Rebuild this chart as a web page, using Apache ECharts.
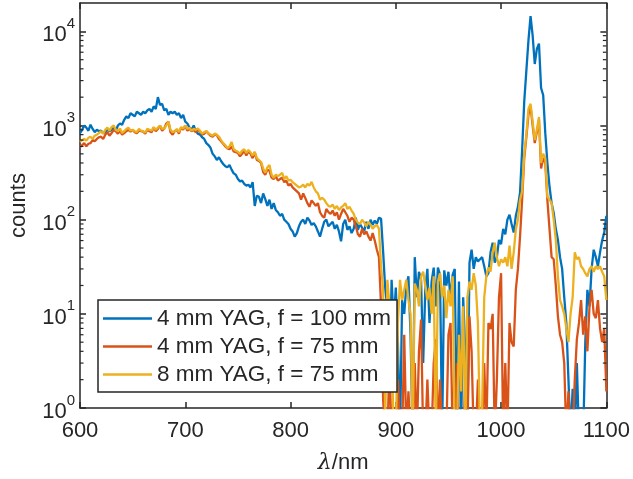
<!DOCTYPE html>
<html>
<head>
<meta charset="utf-8">
<script src="https://cdn.jsdelivr.net/npm/echarts@6/dist/echarts.min.js"></script>
<style>html,body{margin:0;padding:0;background:#fff;}#c{width:633px;height:479px;}</style>
</head>
<body>
<div id="c"></div>
<script>
// wavelength sampling grid: 600..1100 nm, step 2 nm
const wlStart = 600, wlStep = 2;

const seriesNames = ['4 mm YAG, f = 100 mm', '4 mm YAG, f = 75 mm', '8 mm YAG, f = 75 mm'];
const xTicks = [600, 700, 800, 900, 1000, 1100];
const yMajor = [1, 10, 100, 1000, 10000];

const blue = [
830, 900, 1000, 950, 880, 1020, 920, 850, 900, 870,
880, 830, 850, 900, 870, 900, 950, 880, 1000, 1050,
1020, 1150, 1250, 1200, 1350, 1300, 1250, 1400, 1350, 1300,
1400, 1350, 1450, 1500, 1400, 1600, 1500, 2000, 1650, 1700,
1450, 1500, 1300, 1400, 1350, 1400, 1300, 1350, 1200, 1300,
1100, 1050, 950, 900, 1000, 870, 820, 800, 750, 720,
650, 620, 580, 500, 470, 430, 460, 420, 390, 370,
360, 380, 340, 310, 300, 270, 255, 260, 240, 230,
235, 220, 250, 140, 180, 175, 150, 190, 165, 140,
163, 130, 150, 127, 120, 110, 115, 100, 95, 90,
80, 75, 66, 72, 85, 95, 100, 90, 105, 98,
88, 92, 85, 75, 66, 80, 95, 100, 85, 90,
95, 80, 88, 75, 59, 90, 100, 78, 85, 72,
80, 105, 78, 90, 82, 76, 95, 80, 100, 88,
98, 90, 105, 102, 45, 18, 12, 1.5, 23, 8,
19, 5, 0.5, 14, 10, 20, 25, 6, 0.5, 40,
15, 28, 23, 3, 18, 30, 8, 22, 31, 12,
31, 26, 0.5, 29, 20, 28, 14, 26, 30, 0.5,
22, 0.5, 15, 4, 0.5, 35, 48, 30, 40, 36,
38, 40, 32, 25, 27, 45, 57, 35, 40, 61,
55, 80, 70, 100, 113, 90, 73, 110, 137, 193,
550, 1800, 3800, 8000, 14500, 9000, 4500, 6500, 7400, 2500,
2100, 830, 400, 225, 150, 118, 80, 61, 40, 30,
15, 8, 2, 0.5, 1.6, 0.5, 3, 0.5, 0.5, 0.5,
5, 18, 12, 30, 48, 40, 32, 45, 60, 73,
110
];

const orange = [
590, 620, 650, 600, 640, 650, 700, 680, 720, 750,
760, 720, 800, 850, 780, 830, 900, 870, 820, 880,
800, 830, 870, 900, 860, 900, 850, 830, 880, 870,
860, 820, 900, 870, 850, 950, 870, 920, 1000, 880,
930, 1050, 1100, 850, 800, 870, 900, 820, 950, 900,
1000, 880, 920, 870, 900, 850, 900, 860, 800, 820,
870, 820, 780, 760, 800, 790, 720, 680, 640, 600,
570, 560, 600, 530, 520, 510, 470, 500, 540, 480,
530, 500, 450, 520, 430, 420, 400, 320, 300, 340,
330, 280, 270, 290, 260, 270, 280, 250, 260, 230,
240, 220, 210, 200, 190, 163, 190, 170, 150, 137,
160, 150, 140, 150, 120, 110, 105, 130, 120, 115,
125, 110, 120, 100, 115, 130, 120, 110, 95, 105,
100, 85, 70, 66, 80, 70, 75, 66, 60, 72,
60, 48, 40, 12, 1.2, 0.5, 0.5, 3, 0.5, 0.5,
0.5, 2, 0.5, 0.5, 6, 0.5, 1.5, 0.5, 0.5, 3,
0.5, 4, 8.7, 0.5, 0.5, 2, 0.5, 0.5, 3, 5.4,
0.5, 2, 0.5, 0.5, 0.5, 6, 8, 0.5, 0.5, 3,
0.5, 0.5, 0.5, 2, 0.5, 9.4, 4, 0.5, 0.5, 2,
0.5, 0.5, 3, 0.5, 8, 6.9, 10, 0.5, 2, 15,
27, 0.5, 3, 0.5, 8, 5, 4.5, 18, 30, 66,
163, 450, 750, 1300, 1600, 1000, 650, 850, 1150, 350,
450, 400, 160, 80, 40, 38, 20, 9.4, 6, 5,
3, 0.5, 1.5, 0.5, 0.5, 2, 5.4, 8, 14, 6,
9.4, 4, 12, 18, 10, 9, 14, 7, 5, 7,
1.5
];

const yellow = [
670, 700, 720, 690, 740, 760, 720, 780, 800, 830,
870, 820, 900, 950, 880, 960, 1000, 900, 870, 930,
830, 870, 920, 950, 880, 900, 870, 850, 920, 880,
870, 840, 920, 900, 880, 960, 900, 950, 1000, 920,
930, 1000, 1100, 900, 850, 870, 920, 850, 960, 930,
1000, 920, 950, 880, 920, 900, 930, 880, 820, 850,
870, 830, 800, 780, 820, 800, 760, 700, 650, 620,
575, 600, 670, 560, 540, 525, 500, 540, 560, 510,
550, 520, 480, 525, 450, 430, 410, 350, 315, 360,
380, 300, 278, 300, 290, 300, 315, 270, 290, 260,
265, 250, 240, 230, 220, 225, 235, 220, 240, 230,
252, 220, 200, 190, 163, 170, 163, 150, 140, 137,
145, 130, 140, 127, 135, 140, 150, 130, 137, 125,
115, 100, 93, 90, 100, 93, 85, 95, 88, 80,
85, 88, 80, 32, 18, 0.8, 23, 12, 5, 0.5,
0.5, 8, 23, 14, 18, 23, 14, 10, 0.5, 21,
18, 12, 25, 28, 20, 14, 19, 10, 25, 0.5,
22, 27, 15, 20, 9, 18, 12, 25, 0.5, 0.5,
6, 1.5, 12, 0.5, 15, 22, 18, 27, 20, 8,
0.5, 1, 15, 25, 31, 28, 45, 57, 40, 32,
38, 35, 40, 32, 53, 30, 45, 78, 100, 163,
200, 500, 800, 1500, 1700, 1100, 700, 900, 1230, 400,
500, 450, 175, 163, 150, 100, 61, 25, 14, 12,
10, 7, 5, 10, 15, 45, 38, 40, 32, 30,
27, 25, 30, 32, 28, 32, 30, 32, 28, 25,
14
];

const colors = ['#0072BD', '#D95319', '#EDB120'];
const FONT = '"Liberation Sans", Arial, Helvetica, sans-serif';
const AX = '#262626';
const FS = 22;

const yMinor = [];
for (let n = 0; n < 4; n++) for (let k = 2; k <= 9; k++) yMinor.push(k * Math.pow(10, n));

function pairs(arr) { return arr.map((v, i) => [wlStart + i * wlStep, v]); }

const chart = echarts.init(document.getElementById('c'), null, { renderer: 'canvas' });

const axLine = { show: true, lineStyle: { color: AX, width: 1.5 } };
const majTick = { inside: true, length: 6, lineStyle: { color: AX, width: 1.5 } };
const yBase = { type: 'log', logBase: 10, min: 1, max: 20000, splitLine: { show: false } };

chart.setOption({
  animation: false,
  backgroundColor: '#fff',
  grid: { left: 79, right: 25, top: 3, bottom: 70, containLabel: false },
  xAxis: [
    {
      type: 'value', min: 600, max: 1100, interval: 100, position: 'bottom',
      axisLine: axLine, axisTick: majTick,
      axisLabel: { fontSize: FS, color: AX, fontFamily: FONT, margin: 12, formatter: v => String(v) },
      splitLine: { show: false },
      name: '{i|λ}/nm', nameLocation: 'middle', nameGap: 44,
      nameTextStyle: { fontSize: FS, color: AX, fontFamily: FONT,
        rich: { i: { fontSize: FS, fontStyle: 'italic', color: AX, fontFamily: '"DejaVu Serif", serif' } } }
    },
    {
      type: 'value', min: 600, max: 1100, interval: 100, position: 'top',
      axisLine: axLine, axisTick: majTick,
      axisLabel: { show: false }, splitLine: { show: false }
    }
  ],
  yAxis: [
    Object.assign({}, yBase, {
      position: 'left',
      axisLine: axLine,
      axisTick: Object.assign({ customValues: yMajor }, majTick),
      axisLabel: {
        customValues: yMajor, margin: 5,
        formatter: v => '{b|10}{s|' + Math.round(Math.log10(v)) + '}',
        rich: {
          b: { fontSize: FS, color: AX, fontFamily: FONT, lineHeight: 30, verticalAlign: 'bottom' },
          s: { fontSize: 15, color: AX, fontFamily: FONT, lineHeight: 15, verticalAlign: 'top' }
        }
      },
      name: 'counts', nameLocation: 'middle', nameGap: 50, nameRotate: 90,
      nameTextStyle: { fontSize: FS, color: AX, fontFamily: FONT }
    }),
    Object.assign({}, yBase, {
      position: 'right', axisLine: axLine,
      axisTick: Object.assign({ customValues: yMajor }, majTick),
      axisLabel: { show: false }
    })
  ],
  legend: {
    orient: 'vertical', left: 98, top: 300,
    backgroundColor: '#fff', borderColor: AX, borderWidth: 1.5, borderRadius: 0,
    padding: [7, 6, 6, 5], itemGap: 5, itemWidth: 49, itemHeight: 2.5,
    textStyle: { fontSize: 22.5, color: AX, fontFamily: FONT, lineHeight: 20 },
    data: seriesNames.map(n => ({ name: n, icon: 'rect' }))
  },
  series: [blue, orange, yellow].map((arr, i) => ({
    name: seriesNames[i], type: 'line', xAxisIndex: 0, yAxisIndex: 0,
    data: pairs(arr), symbol: 'none', showSymbol: false, clip: true,
    lineStyle: { color: colors[i], width: 2.3 }, itemStyle: { color: colors[i] }
  })).concat([{
    // minor log ticks on left and right frame, placed via the axis scales
    type: 'custom', xAxisIndex: 0, yAxisIndex: 0, silent: true, clip: false, z: 5,
    encode: { x: 0, y: 1 },
    data: yMinor.map(v => [600, v]),
    renderItem: (params, api) => {
      const l = api.coord([600, api.value(1)]);
      const r = api.coord([1100, api.value(1)]);
      const st = { stroke: AX, lineWidth: 1.2 };
      return { type: 'group', children: [
        { type: 'line', shape: { x1: l[0], y1: l[1], x2: l[0] + 3.5, y2: l[1] }, style: st },
        { type: 'line', shape: { x1: r[0] - 3.5, y1: r[1], x2: r[0], y2: r[1] }, style: st }
      ] };
    }
  }])
});
</script>
</body>
</html>
